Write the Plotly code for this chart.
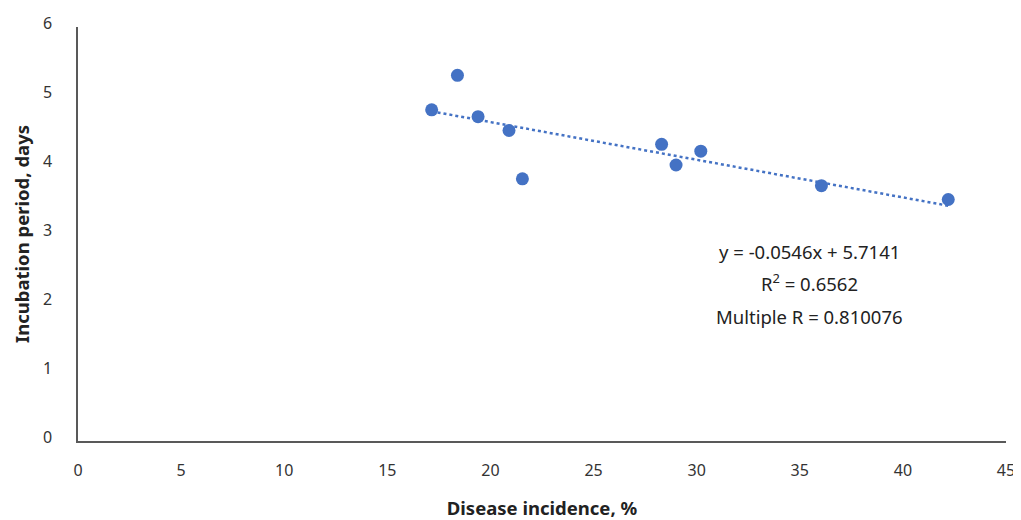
import numpy as np
import plotly.graph_objects as go

# Data
incidence = [17.15, 18.4, 19.4, 20.9, 21.55, 28.3, 29.0, 30.2, 36.05, 42.2]
incubation = [4.8, 5.3, 4.7, 4.5, 3.8, 4.3, 4.0, 4.2, 3.7, 3.5]
slope = -0.0546
intercept = 5.7141
x_ticks = [0, 5, 10, 15, 20, 25, 30, 35, 40, 45]
y_ticks = [0, 1, 2, 3, 4, 5, 6]
eq_lines = ["y = -0.0546x + 5.7141", "R<sup>2</sup> = 0.6562", "Multiple R = 0.810076"]

blue = "#4472C4"
font_family = "Noto Sans, Open Sans, sans-serif"

tx = [min(incidence), max(incidence)]
ty = [intercept + slope * v for v in tx]

fig = go.Figure()
fig.add_trace(go.Scatter(x=tx, y=ty, mode="lines",
                         line=dict(color=blue, width=2.5, dash="dot"),
                         hoverinfo="skip", showlegend=False))
fig.add_trace(go.Scatter(x=incidence, y=incubation, mode="markers",
                         marker=dict(color=blue, size=13), showlegend=False))

for txt, yy in zip(eq_lines, [2.75, 2.30, 1.81]):
    fig.add_annotation(x=35.45, y=yy, text=txt, showarrow=False,
                       xanchor="center", yanchor="middle",
                       font=dict(family=font_family, size=18.5, color="#222222"))

axis_common = dict(showgrid=False, zeroline=False, showline=True,
                   linecolor="#595959", linewidth=1.5, ticks="", automargin=False,
                   tickfont=dict(family=font_family, size=16, color="#333333"))

fig.update_xaxes(range=[0, 45], tickvals=x_ticks, ticklabelstandoff=14,
                 title=dict(text="<b>Disease incidence, %</b>", standoff=22,
                            font=dict(family=font_family, size=18.5, color="#222222")),
                 **axis_common)
fig.update_yaxes(range=[0, 6], tickvals=y_ticks, ticklabelstandoff=21, ticklabelshift=-4,
                 title=dict(text="<b>Incubation period, days</b>", standoff=8,
                            font=dict(family=font_family, size=18.5, color="#222222")),
                 **axis_common)

# page body has an 8px margin, so the figure is shrunk and margins adjusted
fig.update_layout(width=1013, height=512, plot_bgcolor="white", paper_bgcolor="white",
                  margin=dict(l=70, r=15, t=19, b=79))

fig.write_html("out.html")
